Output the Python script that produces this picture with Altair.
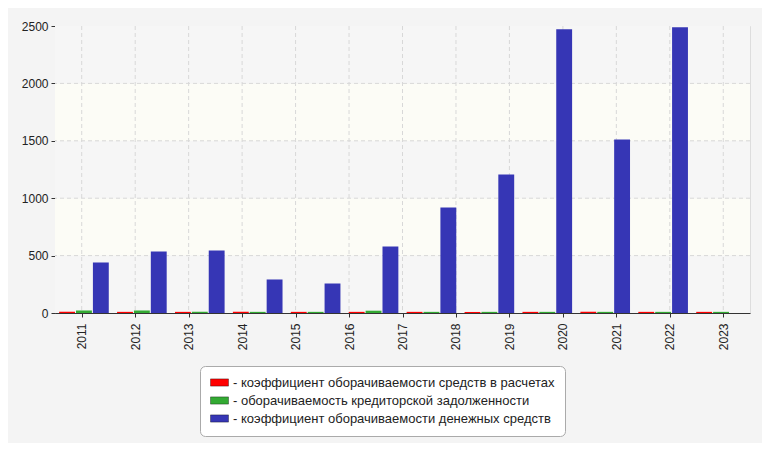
import altair as alt
import pandas as pd

# tick labels on the x axis (13 of them)
axis_years = ["2011", "2012", "2013", "2014", "2015", "2016", "2017",
              "2018", "2019", "2020", "2021", "2022", "2023"]
# bar groups actually drawn (12 of them)
bar_groups = ["2011", "2012", "2013", "2014", "2015", "2016",
              "2017", "2018", "2019", "2020", "2021", "2022"]

series_names = [
    "коэффициент оборачиваемости средств в расчетах",
    "оборачиваемость кредиторской задолженности",
    "коэффициент оборачиваемости денежных средств",
]
series_colors = ["#ff0000", "#33aa33", "#3636b5"]

red_vals = [11, 10, 10, 11, 10, 10, 10, 9, 10, 11, 10, 10]
green_vals = [22, 22, 10, 10, 10, 20, 10, 10, 10, 10, 10, 10]
blue_vals = [440, 536, 545, 292, 257, 580, 920, 1207, 2471, 1512, 2489, 0]

y_ticks = [0, 500, 1000, 1500, 2000, 2500]
grid_vals = [500, 1000, 1500, 2000]
band_lo = [0, 500, 1000, 1500, 2000]
band_hi = [500, 1000, 1500, 2000, 2500]
band_fill = ["#f6f6f6", "#fcfcf6", "#f6f6f6", "#fcfcf6", "#f6f6f6"]

rows = []
for i, g in enumerate(bar_groups):
    for s, vals in zip(series_names, [red_vals, green_vals, blue_vals]):
        rows.append({"group": g, "series": s, "value": vals[i]})
bars_df = pd.DataFrame(rows)

bands_df = pd.DataFrame({"lo": band_lo, "hi": band_hi, "fill": band_fill})
xgrid_df = pd.DataFrame({"year": axis_years})
ygrid_df = pd.DataFrame({"v": grid_vals})

FONT = "Liberation Sans"
yscale = alt.Scale(domain=[0, 2500], nice=False, zero=True)
yaxis = alt.Axis(values=y_ticks, grid=False, tickSize=4, tickColor="#333333",
                 domainColor="#333333", labelFontSize=12, labelColor="#222222",
                 labelFont=FONT, labelPadding=3, title=None, format="d")

bands = alt.Chart(bands_df).mark_rect().encode(
    y=alt.Y("lo:Q", scale=yscale, axis=yaxis),
    y2="hi:Q",
    color=alt.Color("fill:N", scale=None),
)

xgrid = alt.Chart(xgrid_df).mark_rule(color="#d8d8d8", strokeDash=[4, 3], strokeWidth=1).encode(
    x=alt.X("year:N", sort=axis_years,
            scale=alt.Scale(type="point", padding=0.5),
            axis=alt.Axis(labelAngle=-90, tickSize=4, tickColor="#333333",
                          domainColor="#333333", labelFontSize=12,
                          labelColor="#222222", labelFont=FONT,
                          labelPadding=6, grid=False, title=None)),
)

ygrid = alt.Chart(ygrid_df).mark_rule(color="#d8d8d8", strokeDash=[4, 3], strokeWidth=1).encode(
    y=alt.Y("v:Q", scale=yscale, axis=yaxis),
)

bars = alt.Chart(bars_df).mark_bar().encode(
    x=alt.X("group:N", sort=bar_groups,
            scale=alt.Scale(paddingInner=0.143, paddingOuter=0.0715),
            axis=None),
    xOffset=alt.XOffset("series:N", sort=series_names,
                        scale=alt.Scale(domain=series_names, paddingInner=0.06, paddingOuter=0)),
    y=alt.Y("value:Q", scale=yscale, axis=yaxis),
    color=alt.Color("series:N",
                    scale=alt.Scale(domain=series_names, range=series_colors),
                    legend=alt.Legend(
                        title=None, orient="none", legendX=145, legendY=340,
                        direction="vertical", columns=1,
                        fillColor="#ffffff", strokeColor="#aaaaaa",
                        cornerRadius=5, padding=10, rowPadding=4,
                        symbolType="M-1,-0.6h3v1.2h-3z", symbolSize=144,
                        symbolStrokeColor="rgba(0,0,0,0.35)", symbolStrokeWidth=1,
                        symbolOpacity=1, labelOffset=10,
                        labelFont=FONT, labelFontSize=13, labelColor="#222222",
                        labelExpr="'- ' + datum.label", labelLimit=500,
                    )),
)

chart = alt.layer(bands, xgrid, ygrid, bars).resolve_scale(
    x="independent"
).properties(
    width=695, height=287,
    autosize=alt.AutoSizeParams(type="none"),
    padding={"left": 47, "top": 18, "right": 12, "bottom": 130},
    background="#f4f4f4",
).configure_view(
    stroke="#dddddd", strokeWidth=1
)

chart.save("out.html", embed_options={"renderer": "svg", "actions": False})
